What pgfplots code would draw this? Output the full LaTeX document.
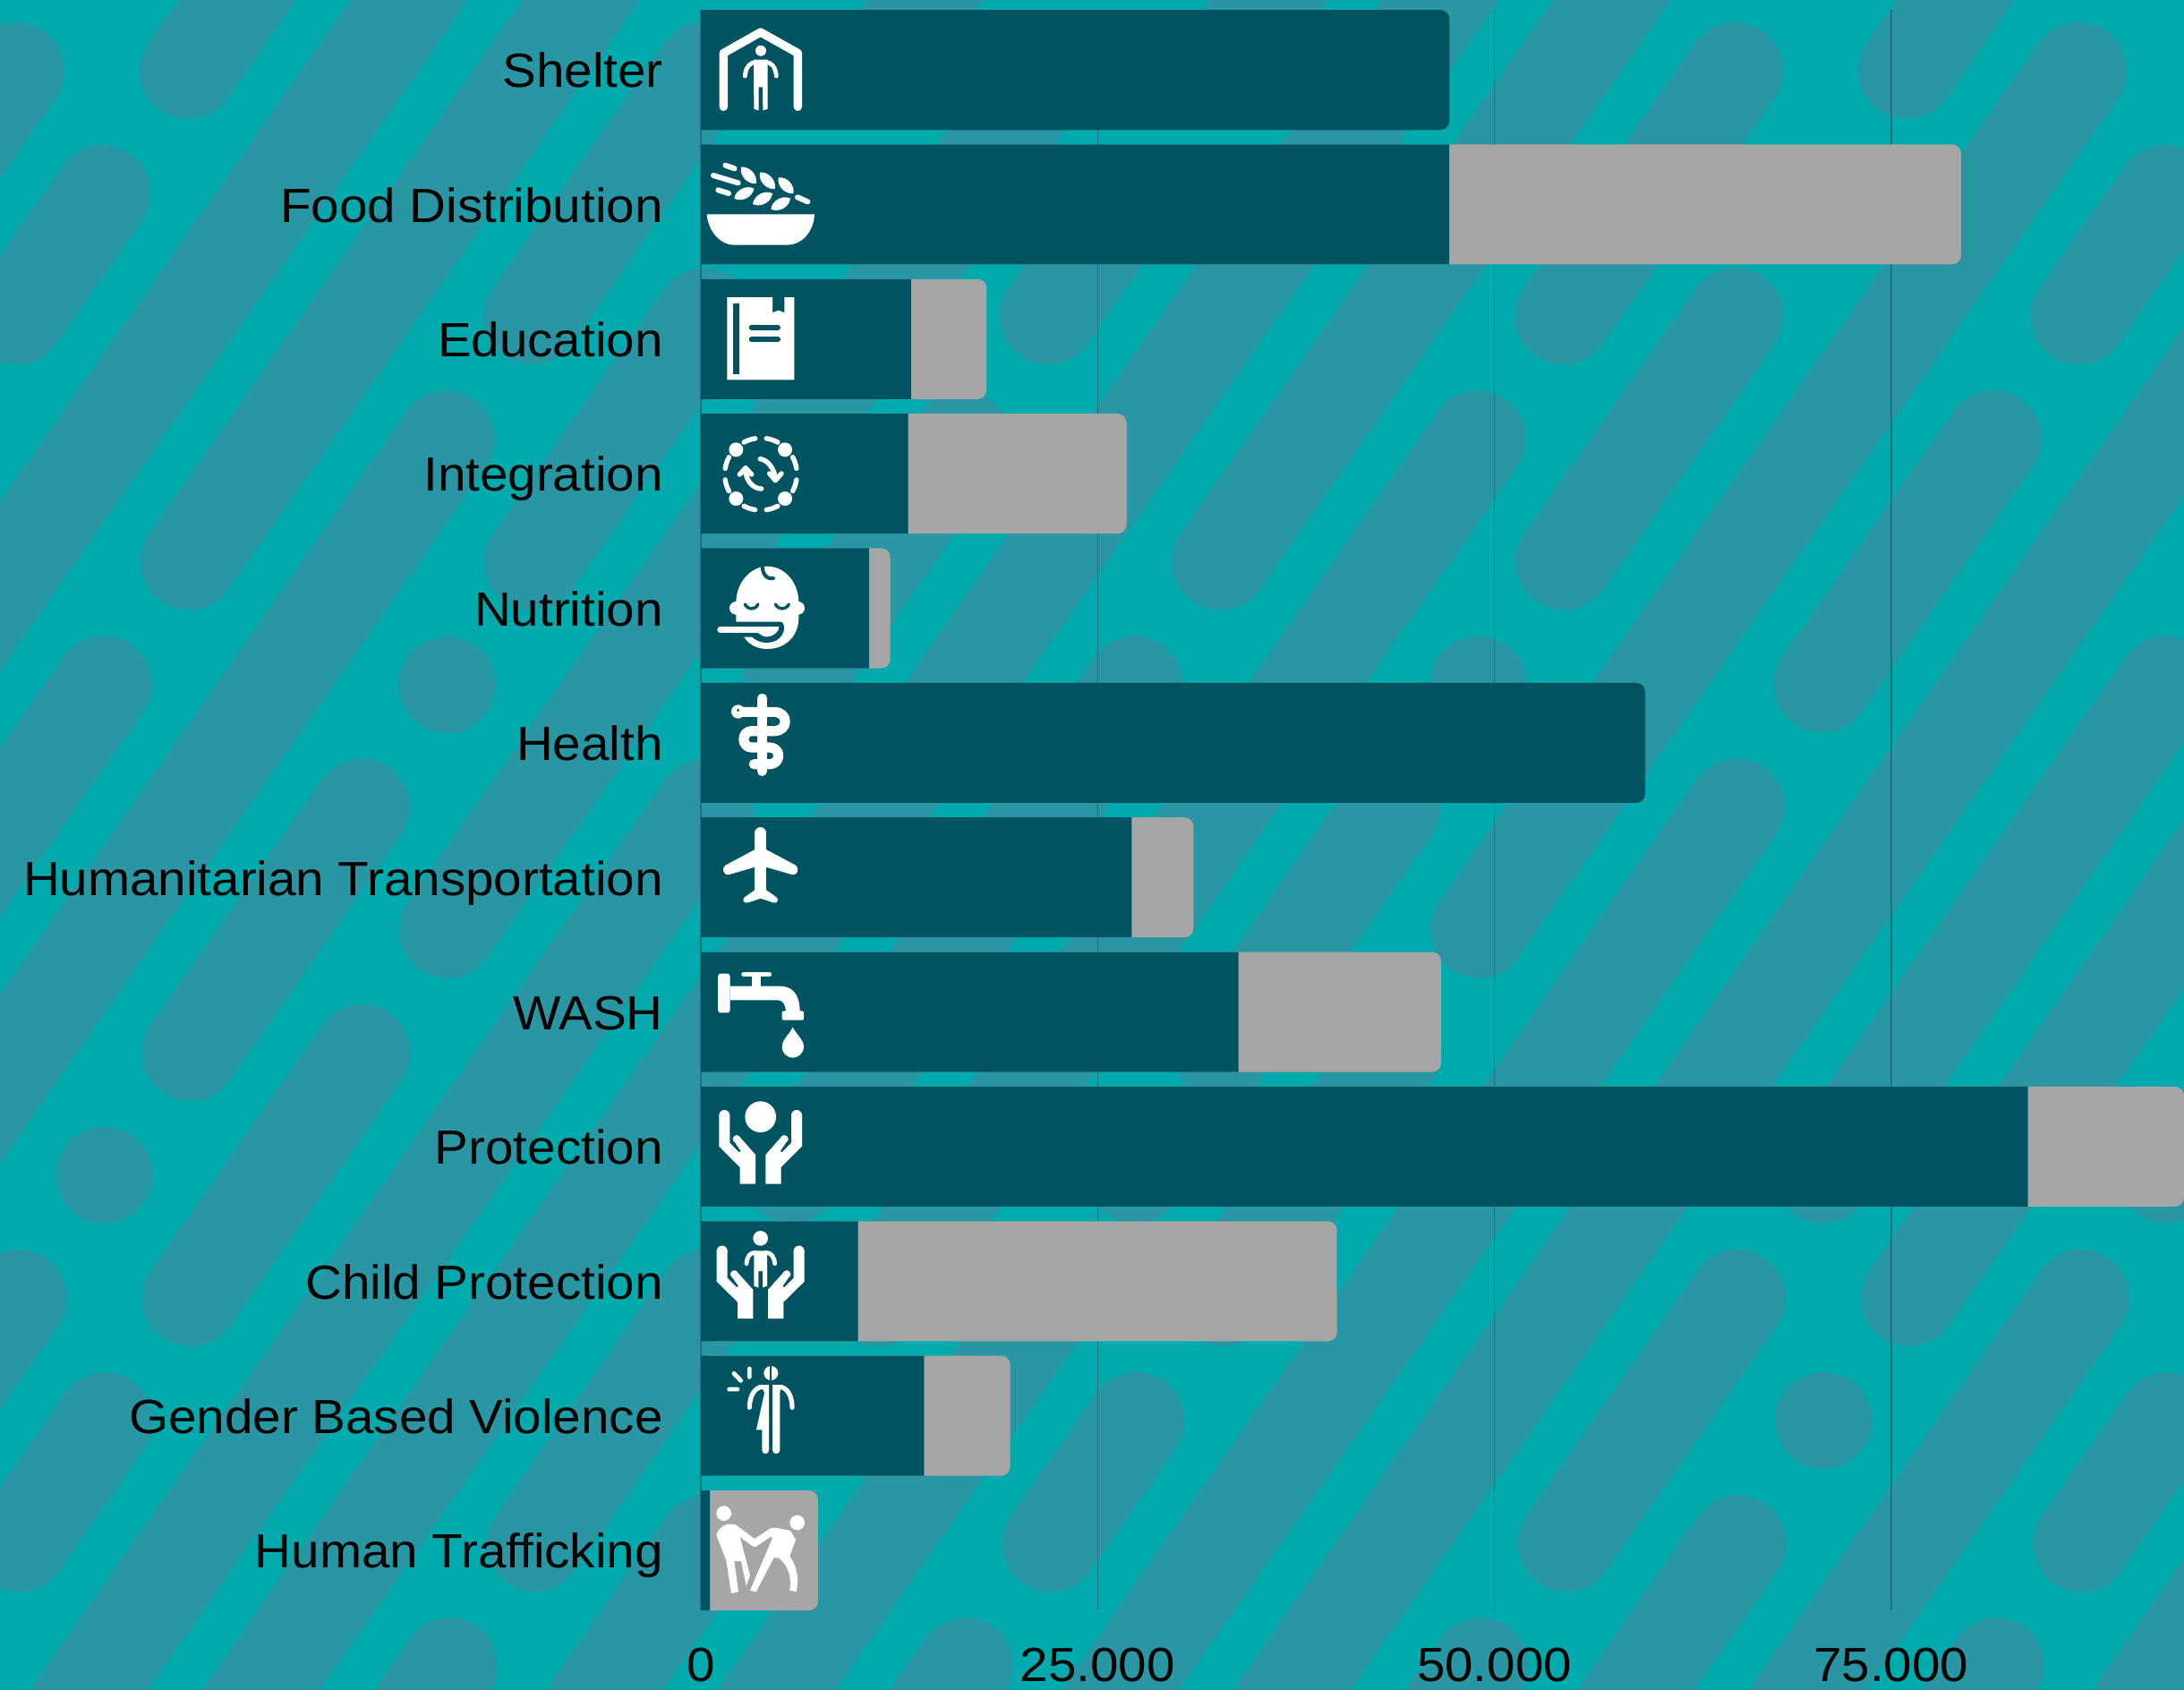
\documentclass[border=0pt]{standalone}
\usepackage{fontspec}
\setmainfont[FakeStretch=1.055]{Liberation Sans}
\usepackage{pgfplots}
\pgfplotsset{compat=1.18}
\definecolor{bgteal}{RGB}{0,170,173}
\definecolor{pill}{RGB}{41,151,163}
\definecolor{darkbar}{RGB}{0,83,96}
\definecolor{greybar}{RGB}{166,166,166}
\definecolor{gridc}{RGB}{28,115,125}
\newcommand{\lab}{\fontsize{26.8}{30}\selectfont}
% hand for the two protection icons, in zoom units
\newcommand{\hand}{%
  \fill[white,line join=round] (61,108)--(61,212)--(131,282)--(131,338)--(183,338)--(183,240)--(130,180)--(108,190)--(134,228)--(128,232)--(97,200)--(97,108)--cycle;
  \fill[white] (79,108) circle (18);
  \fill[white] (120,187) circle (13);
}
\begin{document}
\begin{tikzpicture}
\path[use as bounding box] (0,0) rectangle (1220pt,-943.5pt);
\fill[bgteal] (-5pt,5pt) rectangle (1225pt,-950pt);
% background pattern: pills on a slanted lattice
\begin{scope}[x=0.5pt,y=-0.5pt,line width=54pt,line cap=round,draw=pill]
\clip (-10,-10) rectangle (2450,1900);
\foreach \k in {-1,...,21}{
  \foreach \a/\b in {0/7,8/10,11/12,13/15,16/34,35/39,40/42,43/50,51/51,52/54,55/55,56/58,59/59}{
    \pgfmathtruncatemacro{\ja}{mod(\a-10*\k+600,60)}
    \ifnum\ja>20 \pgfmathtruncatemacro{\ja}{\ja-60}\fi
    \pgfmathtruncatemacro{\jb}{\ja+\b-\a}
    \pgfmathsetmacro{\ya}{79+137.1*\ja}
    \pgfmathsetmacro{\yb}{79+137.1*\jb}
    \pgfmathsetmacro{\xa}{73+192*\k-0.698*\ya}
    \pgfmathsetmacro{\xb}{73+192*\k-0.698*\yb}
    \ifnum\jb>-3 \ifnum\ja<17
      \draw[pill] (\xa,\ya) -- (\xb+0.01,\yb);
    \fi\fi
  }
}
\end{scope}
\begin{axis}[
    at={(391.5pt,-899.5pt)}, anchor=south west,
    scale only axis, width=828.5pt, height=894pt,
    xmin=0, xmax=93450,
    ymin=-0.4456, ymax=11.4456, y dir=reverse,
    xbar, bar width=67pt,
    axis line style={draw=none},
    major tick length=0pt,
    xtick={0,25000,50000,75000},
    scaled x ticks=false,
    xticklabel style={/pgf/number format/1000 sep={.},/pgf/number format/assume math mode=true,
        font=\lab, inner sep=0pt, text height=19pt, text depth=0pt, anchor=north, yshift=-20.5pt},
    ytick={0,...,11},
    yticklabels={Shelter,Food Distribution,Education,Integration,Nutrition,Health,
        Humanitarian Transportation,WASH,Protection,Child Protection,Gender Based Violence,Human Trafficking},
    yticklabel style={font=\lab, inner sep=0pt, text height=19pt, text depth=0pt, anchor=east, xshift=-21pt, yshift=-0.4pt},
    xmajorgrids,
    major grid style={gridc,line width=0.7pt},
]
% totals, rounded at the far end
\addplot+[xbar, bar shift=0pt, draw=none, fill=greybar, rounded corners=5pt, forget plot]
  coordinates {(79400,1)(18000,2)(26820,3)(11940,4)(31040,6)(46640,7)(93450,8)(40080,9)(19490,10)(7375,11)};
\addplot+[xbar, bar shift=0pt, draw=none, fill=darkbar, rounded corners=5pt, forget plot]
  coordinates {(47170,0)(59500,5)};
% reached part, square ended
\addplot+[xbar, bar shift=0pt, draw=none, fill=darkbar, forget plot]
  coordinates {(46600,0)(47150,1)(13240,2)(13060,3)(10600,4)(58950,5)(27150,6)(33870,7)(83610,8)(9900,9)(14070,10)(570,11)};
\end{axis}
% icons, drawn in 3x zoom units of the reference
\begin{scope}[shift={(391.5pt,-5pt)},x=0.16667pt,y=-0.16667pt,line cap=round,line join=round]
% shelter
\draw[white,line width=4.67pt] (76,328)--(76,148)--(200,78)--(325,148)--(325,328);
\fill[white] (201,140) circle (18);
\fill[white] (177,170)--(224,170)--(224,335)--(208,340)--(207,262)--(194,262)--(194,340)--(178,335)--cycle;
\draw[white,line width=2.4pt] (148,225) .. controls (150,195) and (165,178) .. (185,178);
\draw[white,line width=2.4pt] (253,225) .. controls (251,195) and (236,178) .. (216,178);
% food
\fill[white] (20,688)--(381,688) .. controls (378,750) and (335,791) .. (290,791)--(110,791) .. controls (70,791) and (25,750) .. (20,688)--cycle;
\foreach \ax/\ay/\bx/\by in {135/530/185/585,198/548/248/603,260/565/310/618,112/635/178/602,174/654/240/618,235/671/300/635}{
  \fill[white] (\ax,\ay) to[bend left=55] (\bx,\by) to[bend left=55] (\ax,\ay);
}
\draw[white,line width=3pt] (82,524)--(113,535) (42,558)--(125,583) (58,607)--(93,618) (324,631)--(358,646);
\end{scope}
\begin{scope}[shift={(391.5pt,-155pt)},x=0.16667pt,y=-0.16667pt,line cap=round,line join=round]
% education
\fill[white] (88,66)--(240,66)--(240,118)--(260,110)--(280,118)--(280,66)--(313,66)--(313,343)--(88,343)--cycle;
\fill[darkbar] (108,86) rectangle (128,324);
\draw[darkbar,line width=3pt] (170,167)--(258,167) (170,208)--(258,208);
% integration
\foreach \px/\py in {118/577,282/577,118/741,282/741}{\fill[white] (\px,\py) circle (24);}
\begin{scope}[shift={(201,659)}]
\foreach \aa in {62,99,9,-28,-81,-118,152,189}{
  \pgfmathsetmacro{\ab}{\aa+19}
  \draw[white,line width=2.7pt] (\aa:121) arc[start angle=\aa,end angle=\ab,radius=121];
}
\end{scope}
\draw[white,line width=2.7pt] (199,608) .. controls (225,612) and (245,640) .. (250,672);
\draw[white,line width=2.7pt] (230,657)--(250,680)--(270,657);
\draw[white,line width=2.7pt] (203,708) .. controls (175,708) and (150,680) .. (150,646);
\draw[white,line width=2.7pt] (130,660)--(150,638)--(170,660);
\end{scope}
\begin{scope}[shift={(391.5pt,-305pt)},x=0.16667pt,y=-0.16667pt,line cap=round,line join=round]
% nutrition
\fill[white] (118,190) .. controls (118,120) and (170,68) .. (222,68) .. controls (280,68) and (328,120) .. (328,190)--(328,240) .. controls (328,300) and (285,345) .. (222,345) .. controls (190,345) and (160,330) .. (145,305)--(118,255)--cycle;
\fill[white] (118,208) circle (22);
\fill[white] (326,208) circle (22);
\fill[darkbar] (100,254)--(268,254) .. controls (285,258) and (285,300) .. (250,318) .. controls (220,330) and (190,322) .. (172,305)--(100,305)--cycle;
\fill[white] (190,270)--(262,270) .. controls (262,295) and (225,312) .. (205,300)--(190,290)--cycle;
\draw[white,line width=3.3pt] (65,280)--(195,280);
\draw[darkbar,line width=1.7pt] (148,195) .. controls (158,215) and (182,215) .. (192,195);
\draw[darkbar,line width=1.7pt] (250,195) .. controls (260,215) and (285,215) .. (295,195);
\draw[darkbar,line width=2pt] (207,72) .. controls (207,95) and (225,115) .. (243,108);
% health
\draw[white,line width=5.3pt] (206,510)--(206,755);
\draw[white,line width=5.6pt] (125,556)--(245,556) .. controls (295,556) and (295,620) .. (245,620)--(170,620) .. controls (135,620) and (135,675) .. (170,675)--(230,675) .. controls (270,675) and (270,731) .. (230,731)--(178,731);
\fill[white] (125,555) circle (23);
\fill[darkbar] (125,550) circle (5);
\end{scope}
\begin{scope}[shift={(391.5pt,-455pt)},x=0.16667pt,y=-0.16667pt,line cap=round,line join=round]
% transportation
\draw[white,line width=6.6pt] (200,62)--(200,262);
\fill[white] (185,115)--(82,170) .. controls (68,180) and (75,205) .. (95,201)--(185,175)--(215,175)--(305,201) .. controls (325,205) and (332,180) .. (318,170)--(215,115)--cycle;
\fill[white] (185,250)--(148,276) .. controls (135,285) and (145,300) .. (158,295)--(200,281)--(242,295) .. controls (255,300) and (265,285) .. (252,276)--(215,250)--cycle;
% wash
\fill[white,rounded corners=1.5pt] (57,533) rectangle (98,664);
\fill[white] (98,575)--(265,575) .. controls (310,575) and (332,605) .. (332,665)--(285,665) .. controls (285,640) and (275,622) .. (260,622)--(98,622)--cycle;
\fill[white,rounded corners=1pt] (272,658) rectangle (345,689);
\fill[white] (172,540) rectangle (200,580);
\draw[white,line width=2.8pt] (144,535)--(229,535);
\fill[white] (308,713) .. controls (295,738) and (272,755) .. (272,778) .. controls (272,800) and (290,815) .. (308,815) .. controls (326,815) and (345,800) .. (345,778) .. controls (345,755) and (321,738) .. (308,713)--cycle;
\end{scope}
\begin{scope}[shift={(391.5pt,-605pt)},x=0.16667pt,y=-0.16667pt,line cap=round,line join=round]
% protection
\fill[white] (200,113) circle (52);
\hand
\begin{scope}[shift={(400,0)},xscale=-1]\hand\end{scope}
% child protection
\begin{scope}[shift={(-8,456)},yscale=0.985]\hand\end{scope}
\begin{scope}[shift={(408,456)},xscale=-1,yscale=0.985]\hand\end{scope}
\fill[white] (200,520) circle (25);
\fill[white] (178,562)--(222,562)--(222,680)--(207,685)--(207,630)--(193,630)--(193,685)--(178,680)--cycle;
\draw[white,line width=2.4pt] (153,605) .. controls (155,580) and (165,568) .. (182,568);
\draw[white,line width=2.4pt] (248,605) .. controls (245,580) and (235,568) .. (218,568);
\end{scope}
\begin{scope}[shift={(391.5pt,-755pt)},x=0.16667pt,y=-0.16667pt,line cap=round,line join=round]
% gender based violence
\draw[white,line width=2.4pt] (111,73)--(134,97) (163,57)--(163,85) (95,126)--(123,126);
\fill[white] (235,72) circle (24);
\draw[darkbar,line width=1pt,line cap=butt] (233,45)--(233,100);
\fill[white] (228,111)--(200,111)--(213,138)--(186,262)--(205,262)--(205,330) .. controls (205,346) and (228,346) .. (228,330)--cycle;
\fill[white] (240,111)--(268,111)--(265,140)--(265,330) .. controls (265,346) and (240,346) .. (240,330)--cycle;
\draw[white,line width=2.6pt] (163,187) .. controls (163,150) and (180,120) .. (205,118);
\draw[white,line width=2.6pt] (306,187) .. controls (306,150) and (290,120) .. (265,118);
% human trafficking
\fill[white] (77,542) circle (25);
\fill[white] (323,573) circle (25);
\fill[white] (52,615) .. controls (60,585) and (90,572) .. (110,580)--(125,598)--(165,750)--(152,785)--(135,702)--(112,702)--(126,805)--(102,810)--(85,700)--cycle;
\draw[white,line width=4pt] (110,590)--(180,642)--(240,602);
\fill[white] (215,607)--(250,590)--(300,600)--(318,630)--(298,685) .. controls (322,720) and (330,760) .. (320,805)--(298,800) .. controls (305,760) and (295,720) .. (262,692)--(245,690)--(185,805)--(165,800)--(240,625)--cycle;
\end{scope}
\end{tikzpicture}
\end{document}
